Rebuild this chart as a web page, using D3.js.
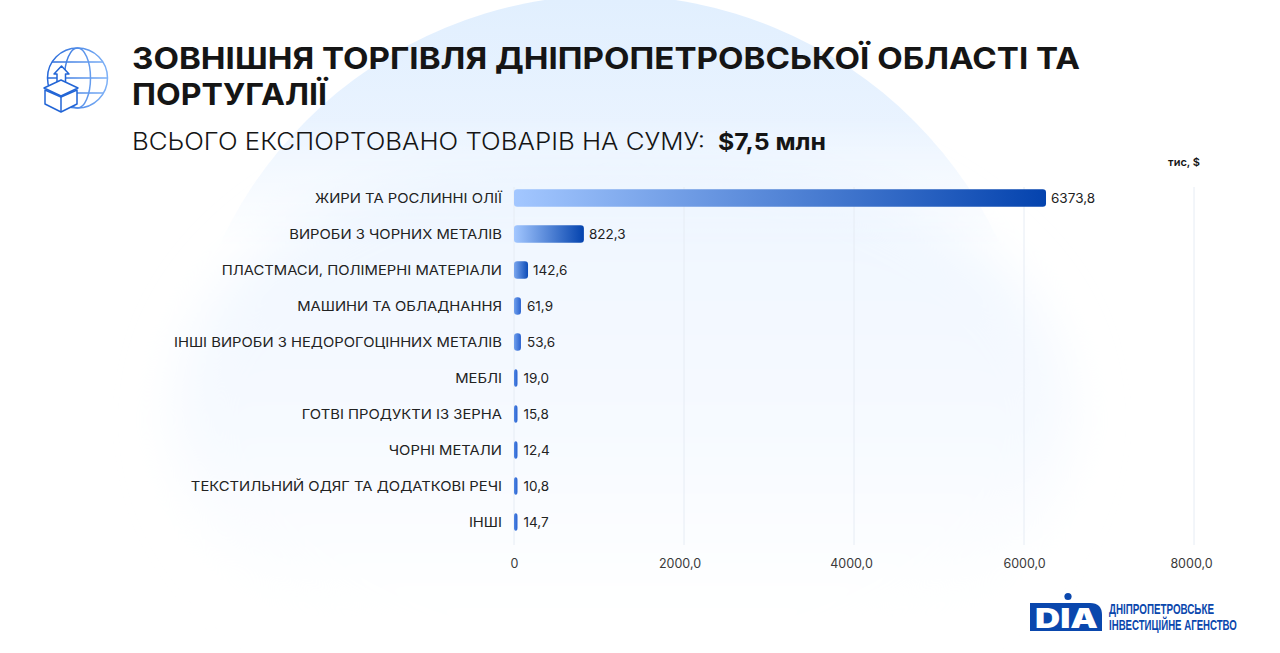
<!DOCTYPE html>
<html><head><meta charset="utf-8">
<script src="https://cdn.jsdelivr.net/npm/d3@7"></script>
<style>html,body{margin:0;padding:0;background:#fff;overflow:hidden}svg{display:block}text{font-family:Inter,"Open Sans",sans-serif}</style>
</head><body><svg id="c" width="1280" height="653"></svg>
<script>
const categories=["ЖИРИ ТА РОСЛИННІ ОЛІЇ","ВИРОБИ З ЧОРНИХ МЕТАЛІВ","ПЛАСТМАСИ, ПОЛІМЕРНІ МАТЕРІАЛИ","МАШИНИ ТА ОБЛАДНАННЯ","ІНШІ ВИРОБИ З НЕДОРОГОЦІННИХ МЕТАЛІВ","МЕБЛІ","ГОТВІ ПРОДУКТИ ІЗ ЗЕРНА","ЧОРНІ МЕТАЛИ","ТЕКСТИЛЬНИЙ ОДЯГ ТА ДОДАТКОВІ РЕЧІ","ІНШІ"];
const valueLabels=["6373,8","822,3","142,6","61,9","53,6","19,0","15,8","12,4","10,8","14,7"];
// bar lengths as drawn in the picture, read against the axis
const barLengths=[6259,822.3,165,82,82,41,41,41,41,41];
const tickValues=[0,2000,4000,6000,8000];
const tickLabels=["0","2000,0","4000,0","6000,0","8000,0"];

const svg=d3.select("#c"),defs=svg.append("defs");
const grad=(id,stops,attrs={x1:0,y1:0,x2:1,y2:0})=>{const g=defs.append("linearGradient").attr("id",id);Object.entries(attrs).forEach(([k,v])=>g.attr(k,v));stops.forEach(([o,c])=>g.append("stop").attr("offset",o).attr("stop-color",c));};
grad("gBig",[[0,"#a3c7ff"],[1,"#0443ae"]]);
grad("gMid",[[0,"#7aa6ee"],[1,"#0c4cb8"]]);
grad("gSmall",[[0,"#6f9fec"],[1,"#2a62cf"]]);
grad("gTiny",[[0,"#4f86e4"],[1,"#2a62cf"]]);
grad("gIcon",[[0,"#2265d8"],[1,"#7fb2f7"]],{gradientUnits:"userSpaceOnUse",x1:45,y1:80,x2:108,y2:80});
const uy={gradientUnits:"userSpaceOnUse",x1:0,y1:0,x2:0,y2:620};
grad("gDome",[[0,"#e1effe"],[0.25,"#ebf4ff"],[1,"#f6faff"]],uy);
grad("gGlow",[[0,"#eaf3ff"],[0.3,"#f0f7ff"],[0.65,"#f5f9ff"],[0.92,"#fdfeff"],[1,"#ffffff"]],uy);
grad("gFade",[[0,"#fff"],[0.19,"#fff"],[0.4,"#000"],[1,"#000"]],uy);
defs.append("mask").attr("id","domeMask").attr("maskUnits","userSpaceOnUse").attr("x",0).attr("y",0).attr("width",1280).attr("height",653)
 .append("rect").attr("width",1280).attr("height",653).attr("fill","url(#gFade)");
defs.append("filter").attr("id","soft").attr("filterUnits","userSpaceOnUse").attr("x",-200).attr("y",-200).attr("width",1700).attr("height",1100)
 .append("feGaussianBlur").attr("stdDeviation",26);

// background blob
svg.append("rect").attr("width",1280).attr("height",653).attr("fill","#fff");
svg.append("ellipse").attr("cx",622).attr("cy",420).attr("rx",448).attr("ry",285).attr("fill","url(#gGlow)").attr("filter","url(#soft)");
svg.append("g").attr("mask","url(#domeMask)").append("circle").attr("cx",610).attr("cy",425).attr("r",430).attr("fill","url(#gDome)");

// title block
const ink="#151515";
const head=(t,x,y,fs,fw,len)=>svg.append("text").attr("x",x).attr("y",y).attr("font-size",fs).attr("font-weight",fw).attr("fill",ink).attr("textLength",len).attr("lengthAdjust","spacingAndGlyphs").text(t);
head("ЗОВНІШНЯ ТОРГІВЛЯ ДНІПРОПЕТРОВСЬКОЇ ОБЛАСТІ ТА",132,68.5,30.5,700,948);
head("ПОРТУГАЛІЇ",132,105,30.5,700,195);
head("ВСЬОГО ЕКСПОРТОВАНО ТОВАРІВ НА СУМУ:",132,149.5,23.5,300,573);
head("$7,5 млн",718,149.5,23.5,700,108);
svg.append("text").attr("x",1200).attr("y",166).attr("text-anchor","end").attr("font-size",11).attr("font-weight",600).attr("fill",ink).text("тис, $");

// scales
const x=d3.scaleLinear().domain([0,8000]).range([514,1194]);
const y=d3.scaleBand().domain(categories).range([180,540]).paddingInner(0.514).paddingOuter(0.257);

// grid
svg.append("g").selectAll("line").data(tickValues).join("line")
 .attr("x1",d=>x(d)).attr("x2",d=>x(d)).attr("y1",187).attr("y2",545)
 .attr("stroke","#e6ecf4").attr("stroke-width",1);

// axis
const axis=d3.axisBottom(x).tickValues(tickValues).tickSize(0).tickFormat((d,i)=>tickLabels[i]);
const ax=svg.append("g").attr("transform","translate(0,554)").call(axis);
ax.select(".domain").remove();
const tickNudge=[0,-4.5,-3,0,-3];
ax.selectAll("text").attr("font-size",12.5).attr("fill","#3a3a3a").style("font-family","Inter").attr("dy","0.9em").attr("dx",(d,i)=>tickNudge[i]);

// bars
const rows=svg.append("g").selectAll("g").data(categories).join("g");
const h=y.bandwidth();
const barW=i=>x(barLengths[i])-x(0);
rows.append("rect").attr("x",x(0)).attr("y",d=>y(d)).attr("height",h).attr("rx",3.2)
 .attr("width",(d,i)=>barW(i))
 .attr("fill",(d,i)=>{const w=barW(i);return w>40?"url(#gBig)":w>10?"url(#gMid)":w>5?"url(#gSmall)":"url(#gTiny)";});
rows.append("text").attr("x",502).attr("y",d=>y(d)+h/2).attr("dy","0.36em").attr("text-anchor","end")
 .attr("font-size",13).attr("fill","#222").text(d=>d)
 .each(function(){this.setAttribute("textLength",this.getComputedTextLength()*1.138);this.setAttribute("lengthAdjust","spacingAndGlyphs");});
rows.append("text").attr("x",(d,i)=>x(barLengths[i])+(barW(i)<10?6:5)).attr("y",d=>y(d)+h/2).attr("dy","0.36em")
 .attr("font-size",13.5).attr("fill","#222").text((d,i)=>valueLabels[i]);

// logo
const logo=svg.append("g"),blue="#0a47ad";
logo.append("path").attr("d","M1030 603H1090Q1102 603 1102 615V631H1030Z").attr("fill",blue);
logo.append("circle").attr("cx",1068).attr("cy",596.5).attr("r",3.6).attr("fill",blue);
logo.append("text").attr("x",1035).attr("y",628).attr("font-size",27).attr("font-weight",900).attr("fill","#fff").attr("textLength",63).attr("lengthAdjust","spacingAndGlyphs").text("DIA");
const lf="'Liberation Sans Narrow','Liberation Sans'";
const fit=(t,px,py,len)=>logo.append("text").attr("font-size",14.5).attr("font-weight",700).attr("fill",blue).style("font-family",lf).text(t)
 .each(function(){const w=this.getComputedTextLength();this.setAttribute("transform",`translate(${px},${py}) scale(${len/w},1)`);});
fit("ДНІПРОПЕТРОВСЬКЕ",1109,614,105);
fit("ІНВЕСТИЦІЙНЕ АГЕНСТВО",1109,629.5,128);

// icon: globe
const ic=svg.append("g").attr("fill","none").attr("stroke","url(#gIcon)").attr("stroke-width",1.5);
ic.append("circle").attr("cx",77.5).attr("cy",78).attr("r",30);
ic.append("ellipse").attr("cx",77.5).attr("cy",78).attr("rx",13).attr("ry",30);
ic.append("path").attr("d","M52 62H103M47.5 78H107.5M52 93H103");
// icon: box with arrow
const box=svg.append("g").attr("fill","#fff").attr("stroke","#2265d6").attr("stroke-width",1.5).attr("stroke-linejoin","round");
box.append("path").attr("d","M57 86V74H54L61.5 66L69 74H65.5V86Z");
box.append("path").attr("d","M45 90V104L61 112L77 104V90L61 97Z");
box.append("path").attr("d","M44 88L61 80L78 88L61 96Z");
box.append("path").attr("d","M61 97V112").attr("fill","none");
</script></body></html>
